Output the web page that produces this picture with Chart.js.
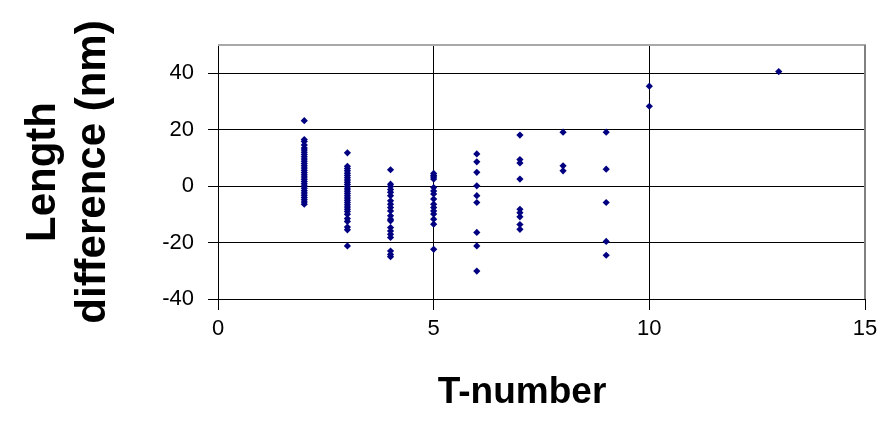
<!DOCTYPE html>
<html>
<head>
<meta charset="utf-8">
<script src="https://cdn.jsdelivr.net/npm/chart.js@4"></script>
<style>
  html, body { margin: 0; padding: 0; background: #ffffff; }
  canvas { display: block; }
</style>
</head>
<body>
<canvas id="chart" width="896" height="434"></canvas>
<script>
// T-number of each group of measurements
const tNumbers = [2, 3, 4, 5, 6, 7, 8, 9, 10, 13];

// Length differences (nm) measured for each T-number, same order as tNumbers
const diffsT2 = [23.2, 16.5, 15.8, 14.6, 13.5, 12.8, 12.0, 11.2, 10.4, 9.6, 8.8, 8.0, 7.2, 6.4,
                 5.6, 4.8, 4.0, 3.2, 2.4, 1.6, 0.8, 0.0, -0.8, -1.6, -2.4, -3.2, -4.0, -4.8, -5.6, -6.4];
const diffsT3 = [11.8, 7.0, 6.2, 5.4, 4.6, 3.8, 3.0, 2.2, 1.4, 0.6, -0.2, -1.0, -1.8, -2.6, -3.4,
                 -4.2, -5.0, -5.8, -6.6, -7.4, -8.2, -9.0, -10.0, -11.5, -12.5, -14.5, -15.5, -21.2];
const diffsT4 = [5.8, 0.7, -0.1, -1.2, -2.2, -3.4, -5.2, -6.4, -7.6, -8.8, -10.5, -11.7, -12.3,
                 -14.7, -15.9, -17.1, -18.2, -23.0, -24.2, -25.0];
const diffsT5 = [4.5, 3.8, 3.2, 2.5, -0.5, -1.7, -2.8, -4.6, -6.4, -7.6, -8.8, -9.9, -11.7, -13.5, -22.4];
const diffsT6 = [11.4, 8.6, 4.9, 0.1, -3.4, -5.8, -16.4, -21.2, -30.1];
const diffsT7 = [18.1, 9.4, 8.2, 2.5, -8.2, -9.4, -10.9, -13.6, -15.3];
const diffsT8 = [19.1, 7.2, 5.4];
const diffsT9 = [19.1, 6.0, -5.8, -19.6, -24.5];
const diffsT10 = [35.4, 28.3];
const diffsT13 = [40.6];

const diffGroups = [diffsT2, diffsT3, diffsT4, diffsT5, diffsT6, diffsT7, diffsT8, diffsT9, diffsT10, diffsT13];

// Axis tick labels and titles
const xTicks = [0, 5, 10, 15];
const yTicks = [-40, -20, 0, 20, 40];
const xTitle = 'T-number';
const yTitle = ['Length', 'difference (nm)'];

const points = [];
tNumbers.forEach((t, i) => {
  diffGroups[i].forEach(d => points.push({ x: t, y: d }));
});

const FONT = '"Liberation Sans", Arial, Helvetica, sans-serif';

// Grey frame on the top and right edges of the plot area
const plotFrame = {
  id: 'plotFrame',
  beforeDatasetsDraw(chart) {
    const { ctx, chartArea: a } = chart;
    ctx.save();
    ctx.lineWidth = 2;
    ctx.strokeStyle = '#a8a8a8';
    ctx.beginPath();
    ctx.moveTo(a.left, a.top);
    ctx.lineTo(a.right + 1, a.top);
    ctx.stroke();
    ctx.strokeStyle = '#808080';
    ctx.beginPath();
    ctx.moveTo(a.right, a.top);
    ctx.lineTo(a.right, a.bottom);
    ctx.stroke();
    ctx.restore();
  }
};

// Horizontal-axis title, centred a little left of the plot centre
const bottomTitle = {
  id: 'bottomTitle',
  afterDraw(chart) {
    const { ctx } = chart;
    ctx.save();
    ctx.font = 'bold 37px ' + FONT;
    ctx.fillStyle = '#000000';
    ctx.textAlign = 'center';
    ctx.textBaseline = 'middle';
    ctx.fillText(xTitle, 522, 393);
    ctx.restore();
  }
};

new Chart(document.getElementById('chart'), {
  type: 'scatter',
  data: {
    datasets: [{
      data: points,
      pointStyle: 'rectRot',
      pointRadius: 3.6,
      pointBackgroundColor: '#000080',
      pointBorderColor: '#000080',
      pointBorderWidth: 0
    }]
  },
  options: {
    responsive: false,
    animation: false,
    devicePixelRatio: 1,
    layout: { padding: { top: 45, right: 31, left: 0, bottom: 0 } },
    plugins: {
      legend: { display: false },
      tooltip: { enabled: false }
    },
    scales: {
      x: {
        type: 'linear',
        min: 0,
        max: 15,
        afterFit(scale) { scale.height = 135; },
        afterBuildTicks(scale) { scale.ticks = xTicks.map(v => ({ value: v })); },
        ticks: {
          color: '#000000',
          font: { family: FONT, size: 22 },
          padding: 6,
          maxRotation: 0
        },
        grid: { color: '#000000', lineWidth: 1, tickLength: 11, drawTicks: true },
        border: { color: '#000000', width: 1 },
        title: { display: false }
      },
      y: {
        type: 'linear',
        min: -40,
        max: 50,
        afterFit(scale) { scale.width = 218; },
        afterBuildTicks(scale) { scale.ticks = yTicks.map(v => ({ value: v })); },
        ticks: {
          color: '#000000',
          font: { family: FONT, size: 22 },
          padding: 14
        },
        grid: { color: '#000000', lineWidth: 1, tickLength: 10, drawTicks: true },
        border: { color: '#000000', width: 1 },
        title: {
          display: true,
          text: yTitle,
          color: '#000000',
          font: { family: FONT, size: 42, weight: 'bold', lineHeight: 1.2 },
          padding: { top: 18, bottom: 0 }
        }
      }
    }
  },
  plugins: [plotFrame, bottomTitle]
});
</script>
</body>
</html>
